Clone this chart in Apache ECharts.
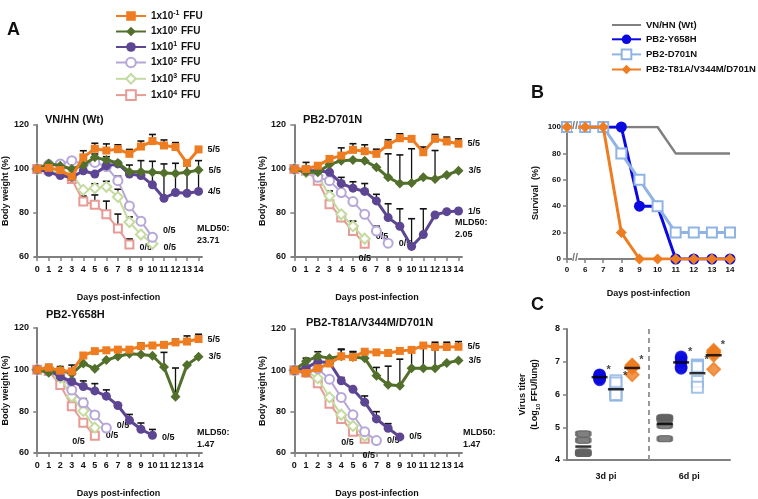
<!DOCTYPE html>
<html>
<head>
<meta charset="utf-8">
<script src="https://cdn.jsdelivr.net/npm/echarts@6/dist/echarts.min.js"></script>
<style>
html, body { margin: 0; padding: 0; background: #fff; }
#chart-container { width: 758px; height: 499px; }
</style>
</head>
<body>
<div id="chart-container"></div>
<script>
var dom = document.getElementById('chart-container');
var myChart = echarts.init(dom, null, { renderer: 'canvas' });

// ---- panel A: body weight ----
var days = [0, 1, 2, 3, 4, 5, 6, 7, 8, 9, 10, 11, 12, 13, 14];
var doses = ['1x10^-1 FFU', '1x10^0 FFU', '1x10^1 FFU', '1x10^2 FFU', '1x10^3 FFU', '1x10^4 FFU'];
var panelTitles = ['VN/HN (Wt)', 'PB2-D701N', 'PB2-Y658H', 'PB2-T81A/V344M/D701N'];
var mld50 = ['23.71', '2.05', '1.47', '1.47'];

var wtWeight = [
  [100, 100.5, 99.5, 96.5, 105.3, 109.2, 108.4, 109, 106.9, 110.2, 112.7, 110.7, 110, 102.7, 108.9],
  [100, 102.5, 101.5, 100, 101.8, 105.3, 104.1, 102.7, 98.8, 98.8, 98.5, 98.2, 97.9, 98.5, 99.5],
  [100, 98.5, 97, 96.2, 99.2, 97.7, 101.5, 102.3, 97.7, 97, 92.8, 86.7, 89.3, 89, 89.8],
  [100, 102, 102.3, 103.8, 102.3, 103, 101.1, 94.7, 83.2, 76.3, 69],
  [100, 99.5, 98.8, 97.7, 90.5, 91.3, 91.9, 87.3, 75.9, 70.2, 66],
  [100, 99.5, 98.8, 95.4, 85.2, 83.7, 79.4, 73, 65.7]
];
var wtErr = [
  [0, 0, 0, 0, 3, 2.5, 3, 2, 2, 2.5, 3, 2.5, 2, 0, 0],
  [0, 0, 0, 0, 0, 1.5, 1.5, 0, 3, 5, 0, 0, 0, 0, 0],
  [0, 0, 0, 0, 0, 0, 0, 0, 0, 0, 10.7, 15.6, 13.3, 14.4, 14],
  [0, 0, 0, 0, 0, 1, 0, 2, 0, 0, 0],
  [0, 0, 0, 0, 0, 2, 2.5, 3.5, 2.3, 0, 0],
  [0, 0, 0, 0, 2.5, 4.5, 6, 6.5, 2.5]
];
var wtSurv = ['5/5', '5/5', '4/5', '0/5', '0/5', '0/5'];

var d701nWeight = [
  [100, 100, 101.5, 104.6, 106.1, 108.7, 108.1, 106.9, 111, 114, 113.7, 107.6, 113.7, 112.5, 111.5],
  [100, 98.5, 98.5, 102, 103.8, 104.1, 103.8, 100.8, 96.2, 93.4, 93.6, 96.2, 95.4, 97.3, 99.2],
  [100, 99.2, 99.2, 98.5, 93.4, 91.3, 89.8, 85.5, 77.9, 74, 64.8, 70.2, 79.1, 80.6, 80.9],
  [100, 99.2, 96.2, 94.7, 89.3, 85.2, 79.4, 71.8, 66.3],
  [100, 98.5, 97, 87.8, 79.4, 74, 68.3],
  [100, 99.2, 94.7, 84, 77.9, 71.8, 66]
];
var d701nErr = [
  [0, 3, 0, 0, 3.5, 2.8, 2.9, 2.1, 2.3, 2, 0, 2.4, 2, 2, 2.2],
  [0, 0, 0, 0, 0, 0, 0, 0, 10.7, 13, 15.6, 0, 13, 0, 0],
  [0, 0, 0, 0, 2.8, 2.9, 3.6, 3, 6.3, 7.9, 12.6, 11.7, 0, 0, 0],
  [0, 0, 0, 1, 0, 1, 0, 2.2, 0],
  [0, 0, 0, 2.2, 0, 2.3, 0],
  [0, 0, 0, 0, 0, 0, 0]
];
var d701nSurv = ['5/5', '3/5', '1/5', '0/5', '0/5', '0/5'];

var y658hWeight = [
  [100, 101, 99.5, 99.2, 106.8, 108.9, 109.3, 109.6, 109.6, 111.3, 111.6, 111.9, 113.1, 113.5, 114.7],
  [100, 98.5, 100, 98, 103, 100.5, 104.6, 106.3, 107.6, 107.3, 106.7, 101.3, 87, 102.3, 106.2],
  [100, 99.8, 96.6, 94.3, 91.9, 89.8, 87.3, 82.8, 75.7, 71.4, 68.5],
  [100, 99.5, 98.5, 90.3, 84.1, 78.3, 72],
  [100, 99.4, 96.2, 87.1, 80.2, 72.2],
  [100, 99.4, 92.6, 82.5, 74.5, 68.3]
];
var y658hErr = [
  [0, 1.5, 0, 3, 0, 0, 0, 1, 0, 1.5, 0, 1, 1.5, 2.7, 2.3],
  [0, 2, 1.5, 0, 0, 0, 0, 0, 0, 0, 0, 7, 13.8, 0, 0],
  [0, 0, 3.5, 0, 2.7, 3.5, 3, 0, 2.8, 3, 2.8],
  [0, 0, 0, 0, 2, 1.5, 0],
  [0, 0, 0, 0, 0, 0],
  [0, 0, 0, 0, 0, 0]
];
var y658hSurv = ['5/5', '3/5', '0/5', '0/5', '0/5', '0/5'];

var t81aWeight = [
  [100, 98.7, 101, 103.3, 106.8, 106.4, 109, 108.7, 108.4, 109.4, 109.9, 112, 111.3, 111.3, 111.4],
  [100, 104.4, 106.8, 105.9, 106.8, 106.4, 105.9, 97.4, 93, 92.5, 101, 101, 101, 103.6, 104.8],
  [100, 101.2, 104.2, 103.8, 94.9, 90.8, 84.6, 76.5, 72, 67.8],
  [100, 99, 100.8, 95.7, 86.9, 78.5, 70.3, 66],
  [100, 99.5, 96.2, 86.9, 78.5, 73.1, 68.2],
  [100, 99, 93.8, 83.8, 76.5, 70.3, 66.9]
];
var t81aErr = [
  [0, 0, 0, 0, 3.5, 2.7, 0, 0, 0, 0, 0, 0, 2.3, 2.3, 2.5],
  [0, 1.5, 2.2, 0, 3.2, 2.5, 0, 4, 9, 12.9, 10, 11, 10, 0, 0],
  [0, 0, 0, 0, 1.6, 0, 3, 3.5, 2.2, 0],
  [0, 0, 0, 0, 0, 0, 0, 0],
  [0, 0, 0, 0, 0, 0, 0],
  [0, 0, 0, 0, 0, 0, 0]
];
var t81aSurv = ['5/5', '3/5', '0/5', '0/5', '0/5', '0/5'];

// ---- panel B: survival ----
var survDays = ['0', '6', '7', '8', '9', '10', '11', '12', '13', '14'];
var strains = ['VN/HN (Wt)', 'PB2-Y658H', 'PB2-D701N', 'PB2-T81A/V344M/D701N'];
var survWt = [100, 100, 100, 100, 100, 100, 80, 80, 80, 80];
var survY658h = [100, 100, 100, 100, 40, 40, 0, 0, 0, 0];
var survD701n = [100, 100, 100, 80, 60, 40, 20, 20, 20, 20];
var survT81a = [100, 100, 100, 20, 0, 0, 0, 0, 0, 0];

// ---- panel C: lung virus titer (log10 FFU/lung), [3d, 6d] ----
var titerDays = ['3d pi', '6d pi'];
var titerWt = [[4.8, 4.6, 4.25, 4.2, 4.2], [5.3, 5.28, 5.22, 5.05, 4.65]];
var titerY658h = [[6.6, 6.58, 6.52, 6.5, 6.45], [7.15, 7.1, 7.0, 6.85, 6.8]];
var titerD701n = [[6.42, 6.35, 6.05, 5.98, 6.0], [6.9, 6.88, 6.85, 6.4, 6.22]];
var titerT81a = [[6.9, 6.88, 6.85, 6.82, 6.6], [7.35, 7.3, 7.28, 7.2, 6.77]];
var titerMean = [[4.41, 5.1], [6.53, 6.98], [6.16, 6.65], [6.81, 7.2]];
var titerSig = [false, true, true, true];

var fontFam = "'Liberation Sans', Arial, sans-serif";
var axisGray = '#808080';

var doseStyle = [
  { color: '#ee7d22', symbol: 'rect', size: 8, width: 3 },
  { color: '#52702b', symbol: 'diamond', size: 10, width: 3 },
  { color: '#5c4592', symbol: 'circle', size: 9, width: 3 },
  { color: '#b7a7d8', symbol: 'emptyCircle', size: 9, width: 2 },
  { color: '#c4dba0', symbol: 'emptyDiamond', size: 10, width: 2 },
  { color: '#e69b95', symbol: 'emptyRect', size: 8, width: 2 }
];

var endLabelPos = [
  [['right', 0, 0], ['right', 0, 0], ['right', 0, 0], ['right', 0, -7], ['right', 0, 4], ['right', 0, 3]],
  [['right', 0, 0], ['right', 0, 0], ['right', 0, 0], ['right', 0, 0], ['right', 0, -2], ['bottom', 0, 0]],
  [['right', 0, 0], ['right', 0, 0], ['right', 0, 2], ['right', 0, -2], ['right', 0, 8], ['left', 0, 6]],
  [['right', 0, 0], ['right', 0, 0], ['right', 0, 0], ['right', 0, 0], ['left', 0, 6], ['bottom', 4, 2]]
];

var panels = [
  { w: wtWeight, e: wtErr, s: wtSurv },
  { w: d701nWeight, e: d701nErr, s: d701nSurv },
  { w: y658hWeight, e: y658hErr, s: y658hSurv },
  { w: t81aWeight, e: t81aErr, s: t81aSurv }
];

var gridsA = [
  { left: 32, top: 125, width: 170, height: 132 },
  { left: 292, top: 125, width: 170, height: 132 },
  { left: 32, top: 328, width: 170, height: 134 },
  { left: 292, top: 329, width: 170, height: 133 }
];
var titlePos = [[45, 114], [303, 114], [46, 309], [306, 317]];
var mldPos = [[197, 223], [455, 217], [197, 427], [463, 427]];

function errItem(params, api) {
  var x = api.value(0), y = api.value(1), e = api.value(2);
  var p0 = api.coord([x, y]);
  var p1 = api.coord([x, y + e]);
  return {
    type: 'group',
    children: [
      { type: 'line', shape: { x1: p0[0], y1: p0[1], x2: p1[0], y2: p1[1] }, style: { stroke: '#111', lineWidth: 1.3 } },
      { type: 'line', shape: { x1: p1[0] - 3.5, y1: p1[1], x2: p1[0] + 3.5, y2: p1[1] }, style: { stroke: '#111', lineWidth: 1.6 } }
    ]
  };
}

var grid = [], xAxis = [], yAxis = [], series = [], titles = [], graphic = [];

panels.forEach(function (p, k) {
  grid.push(gridsA[k]);
  xAxis.push({
    type: 'value', gridIndex: k, min: -0.2, max: 14.3,
    name: 'Days post-infection', nameLocation: 'middle', nameGap: 36,
    nameTextStyle: { fontFamily: fontFam, fontWeight: 'bold', fontSize: 9, color: '#111' },
    axisLine: { lineStyle: { color: axisGray, width: 2 } },
    axisTick: { customValues: days, length: 4, lineStyle: { color: axisGray, width: 1.5 } },
    axisLabel: { customValues: days, fontFamily: fontFam, fontWeight: 'bold', fontSize: 9, color: '#111', margin: 8 },
    splitLine: { show: false }
  });
  yAxis.push({
    type: 'value', gridIndex: k, min: 60, max: 120, interval: 20,
    name: 'Body weight (%)', nameLocation: 'middle', nameGap: k % 2 ? 25 : 21,
    nameTextStyle: { fontFamily: fontFam, fontWeight: 'bold', fontSize: 9, color: '#111' },
    axisLine: { show: true, lineStyle: { color: axisGray, width: 2 } },
    axisTick: { show: true, length: 4, lineStyle: { color: axisGray, width: 1.5 } },
    axisLabel: { fontFamily: fontFam, fontWeight: 'bold', fontSize: 9, color: '#111', margin: 6 },
    splitLine: { show: false }
  });
  titles.push({
    text: panelTitles[k], left: titlePos[k][0], top: titlePos[k][1], padding: 0,
    textStyle: { fontFamily: fontFam, fontWeight: 'bold', fontSize: 11, color: '#111' }
  });
  graphic.push({
    type: 'text', left: mldPos[k][0], top: mldPos[k][1],
    style: { text: 'MLD50:\n' + mld50[k], font: 'bold 9px ' + fontFam, fill: '#111', lineHeight: 12 }
  });
  // error bars first so lines sit on top
  for (var d = 5; d >= 0; d--) {
    var vals = p.w[d], errs = p.e[d];
    var ed = vals.map(function (v, i) { return [days[i], v, errs[i]]; })
      .filter(function (r) { return r[2] > 0; });
    series.push({
      type: 'custom', xAxisIndex: k, yAxisIndex: k, renderItem: errItem,
      data: ed, z: 1, silent: true
    });
  }
  for (var d2 = 5; d2 >= 0; d2--) {
    (function (d) {
      var st = doseStyle[d], lp = endLabelPos[k][d];
      var vals = p.w[d];
      var data = vals.map(function (v, i) {
        var item = { value: [days[i], v] };
        if (i === vals.length - 1) {
          item.label = {
            show: true, formatter: p.s[d], position: lp[0], offset: [lp[1], lp[2]], distance: 5,
            fontFamily: fontFam, fontWeight: 'bold', fontSize: 9, color: '#111'
          };
        }
        return item;
      });
      series.push({
        type: 'line', name: doses[d], xAxisIndex: k, yAxisIndex: k,
        data: data, symbol: st.symbol, symbolSize: st.size, showAllSymbol: true,
        lineStyle: { color: st.color, width: st.width },
        itemStyle: { color: st.color, borderWidth: 1.8 },
        z: 3 + (5 - d), animation: false
      });
    })(d2);
  }
});

// ---- panel B ----
grid.push({ left: 567, top: 127, width: 163, height: 132 });
xAxis.push({
  type: 'category', gridIndex: 4, data: survDays, boundaryGap: false,
  name: 'Days post-infection', nameLocation: 'middle', nameGap: 30,
  nameTextStyle: { fontFamily: fontFam, fontWeight: 'bold', fontSize: 9, color: '#111' },
  axisLine: { lineStyle: { color: axisGray, width: 2 } },
  axisTick: { length: 4, alignWithLabel: true, lineStyle: { color: axisGray, width: 1.5 } },
  axisLabel: { fontFamily: fontFam, fontWeight: 'bold', fontSize: 8, color: '#111', margin: 7, interval: 0 }
});
yAxis.push({
  type: 'value', gridIndex: 4, min: 0, max: 100, interval: 20,
  name: 'Survival  (%)', nameLocation: 'middle', nameGap: 27,
  nameTextStyle: { fontFamily: fontFam, fontWeight: 'bold', fontSize: 9, color: '#111' },
  axisLine: { show: true, lineStyle: { color: axisGray, width: 2 } },
  axisTick: { show: true, length: 4, lineStyle: { color: axisGray, width: 1.5 } },
  axisLabel: { fontFamily: fontFam, fontWeight: 'bold', fontSize: 8, color: '#111', margin: 6 },
  splitLine: { show: false }
});
var survStyle = [
  { data: survWt, color: '#808080', symbol: 'none', size: 0, width: 2.5 },
  { data: survY658h, color: '#0a0ae0', symbol: 'circle', size: 11, width: 3 },
  { data: survD701n, color: '#8fb4e3', symbol: 'emptyRect', size: 10, width: 3 },
  { data: survT81a, color: '#ee7d22', symbol: 'diamond', size: 11, width: 3 }
];
survStyle.forEach(function (s, i) {
  series.push({
    type: 'line', name: strains[i], xAxisIndex: 4, yAxisIndex: 4, data: s.data,
    symbol: s.symbol, symbolSize: s.size, showAllSymbol: true,
    lineStyle: { color: s.color, width: s.width },
    itemStyle: { color: s.color, borderWidth: 2 },
    z: 3 + i, animation: false
  });
});

// ---- panel C ----
grid.push({ left: 567, top: 329, width: 163, height: 131 });
xAxis.push({
  type: 'value', gridIndex: 5, min: 0, max: 10,
  axisLine: { lineStyle: { color: axisGray, width: 2 } },
  axisTick: { show: false },
  axisLabel: {
    customValues: [2.4, 7.5], margin: 12,
    formatter: function (v) { return v < 5 ? titerDays[0] : titerDays[1]; },
    fontFamily: fontFam, fontWeight: 'bold', fontSize: 9, color: '#111'
  },
  splitLine: { show: false }
});
yAxis.push({
  type: 'value', gridIndex: 5, min: 4, max: 8, interval: 1,
  name: '{a|Virus titer}\n{a|(Log}{s|10}{a| FFU/lung)}', nameLocation: 'middle', nameGap: 26,
  nameTextStyle: {
    lineHeight: 12,
    rich: {
      a: { fontFamily: fontFam, fontWeight: 'bold', fontSize: 9, color: '#111', lineHeight: 12 },
      s: { fontFamily: fontFam, fontWeight: 'bold', fontSize: 6, color: '#111', verticalAlign: 'bottom', lineHeight: 12 }
    }
  },
  axisLine: { show: true, lineStyle: { color: axisGray, width: 2 } },
  axisTick: { show: true, length: 4, lineStyle: { color: axisGray, width: 1.5 } },
  axisLabel: { fontFamily: fontFam, fontWeight: 'bold', fontSize: 9, color: '#111', margin: 7 },
  splitLine: { show: false }
});
var titerSets = [titerWt, titerY658h, titerD701n, titerT81a];
var titerStyle = [
  { color: '#606060', symbol: 'roundRect', size: [14, 6] },
  { color: '#0a0ae0', symbol: 'circle', size: 11 },
  { color: '#8fb4e3', symbol: 'emptyRect', size: 11 },
  { color: '#ee7d22', symbol: 'diamond', size: 13 }
];
titerSets.forEach(function (set, s) {
  var pts = [], means = [], stars = [];
  set.forEach(function (vals, g) {
    var x = g * 5 + 1 + s;
    vals.forEach(function (v) { pts.push([x, v]); });
    means.push([x, titerMean[s][g]]);
    stars.push([x, Math.max.apply(null, vals)]);
  });
  series.push({
    type: 'scatter', name: 'titer ' + strains[s], xAxisIndex: 5, yAxisIndex: 5, data: pts,
    symbol: titerStyle[s].symbol, symbolSize: titerStyle[s].size,
    itemStyle: { color: titerStyle[s].color, borderColor: titerStyle[s].color, borderWidth: 1.8 },
    z: 3, animation: false,
    markLine: s === 0 ? {
      silent: true, symbol: 'none', label: { show: false },
      lineStyle: { color: '#999', type: [5, 4], width: 2 },
      data: [{ xAxis: 5 }]
    } : undefined
  });
  series.push({
    type: 'scatter', xAxisIndex: 5, yAxisIndex: 5, data: means,
    symbol: 'rect', symbolSize: [16, 2.5], itemStyle: { color: '#000' }, z: 4, animation: false, silent: true
  });
  if (titerSig[s]) {
    series.push({
      type: 'scatter', xAxisIndex: 5, yAxisIndex: 5, data: stars, symbolSize: 0, silent: true,
      label: {
        show: true, formatter: '*', position: 'right', offset: [1, -5], distance: 6,
        fontFamily: fontFam, fontWeight: 'bold', fontSize: 11, color: '#111'
      },
      z: 5, animation: false
    });
  }
});

// panel letters and axis breaks
graphic.push(
  { type: 'text', left: 7, top: 21, style: { text: 'A', font: 'bold 18px ' + fontFam, fill: '#111' } },
  { type: 'text', left: 531, top: 84, style: { text: 'B', font: 'bold 18px ' + fontFam, fill: '#111' } },
  { type: 'text', left: 531, top: 296, style: { text: 'C', font: 'bold 18px ' + fontFam, fill: '#111' } },
  { type: 'text', left: 572, top: 120, z: 100, style: { text: '//', font: 'bold 11px ' + fontFam, fill: '#777', backgroundColor: '#fff' } },
  { type: 'text', left: 572, top: 252, z: 100, style: { text: '//', font: 'bold 11px ' + fontFam, fill: '#777', backgroundColor: '#fff' } }
);

var strainLegend = strains.map(function (n, i) {
  return i === 0 ? { name: n, itemStyle: { opacity: 0 } } : { name: n };
});

var option = {
  backgroundColor: '#fff',
  animation: false,
  title: titles,
  grid: grid,
  xAxis: xAxis,
  yAxis: yAxis,
  legend: [
    {
      data: doses, orient: 'vertical', left: 110, top: 5,
      itemWidth: 30, itemHeight: 12, itemGap: 4.5, selectedMode: false,
      formatter: function (name) { return name.replace(/\^(-?\d)/, '{s|$1}'); },
      textStyle: {
        fontFamily: fontFam, fontWeight: 'bold', fontSize: 10, color: '#111',
        rich: { s: { fontFamily: fontFam, fontWeight: 'bold', fontSize: 7, color: '#111', verticalAlign: 'top', padding: [0, 1, 5, 0] } }
      }
    },
    {
      data: strainLegend, orient: 'vertical', left: 606, top: 15,
      itemWidth: 29, itemHeight: 12, itemGap: 4.3, selectedMode: false,
      textStyle: { fontFamily: fontFam, fontWeight: 'bold', fontSize: 9.5, color: '#111' }
    }
  ],
  graphic: graphic,
  series: series
};

if (option && typeof option === 'object') {
  myChart.setOption(option);
}

window.addEventListener('resize', myChart.resize);
</script>
</body>
</html>
